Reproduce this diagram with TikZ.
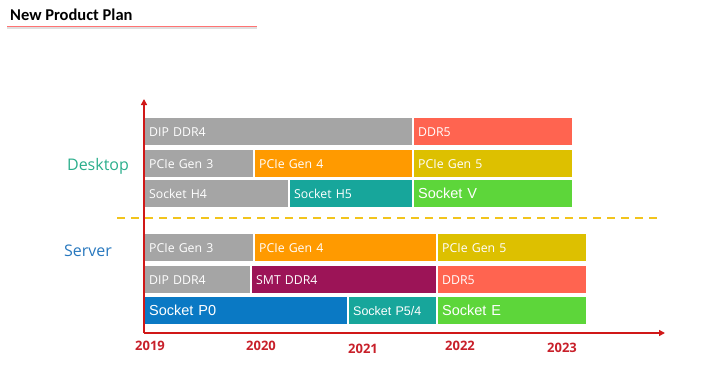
\documentclass[tikz,border=0pt]{standalone}
\usepackage{fontspec}
\setmainfont{Open Sans}
\newfontfamily\arialf{Liberation Sans}
\newfontfamily\calf{Carlito}
\usetikzlibrary{arrows.meta}
\definecolor{cGray}{HTML}{A5A5A5}
\definecolor{cRed}{HTML}{FF6450}
\definecolor{cOrange}{HTML}{FF9A00}
\definecolor{cMustard}{HTML}{DDC000}
\definecolor{cGreen}{HTML}{5DD63A}
\definecolor{cTeal}{HTML}{17A69B}
\definecolor{cMaroon}{HTML}{9C1457}
\definecolor{cBlue}{HTML}{0A79C4}
\definecolor{cAxis}{HTML}{D01818}
\definecolor{cDash}{HTML}{F2C41C}
\definecolor{cDesk}{HTML}{2BAE8C}
\definecolor{cServ}{HTML}{2878BE}
\definecolor{cYear}{HTML}{C8202A}
\begin{document}
\begin{tikzpicture}[x=1pt,y=-1pt,
  bar/.style={anchor=north west, inner xsep=4pt, inner ysep=0pt, minimum height=27pt,
    text=white, align=left, font=\fontsize{12.3}{14}\selectfont},
  sbar/.style={bar, font=\arialf\fontsize{14.5}{16}\selectfont},
  axis/.style={draw=cAxis, line width=1.8pt, -{Triangle[length=6pt,width=6pt]}},
  year/.style={text=cYear, font=\bfseries\fontsize{13}{15}\selectfont},
  grp/.style={font=\fontsize{16}{18}\selectfont}]
\useasboundingbox (0,0) rectangle (716,391);
% title
\node[anchor=west, inner sep=0pt, font=\calf\bfseries\fontsize{16.5}{18}\selectfont] (title) at (10,15) {New Product Plan};
\coordinate (ul1) at (7,26.5); \coordinate (ul2) at (257,26.5);
\draw[gray!25, line width=1.5pt] ([yshift=-1.5pt]ul1) -- ([yshift=-1.5pt]ul2);
\draw[red!55, line width=1pt] (ul1) -- (ul2);
% desktop
\node[bar, fill=cGray, text width=259pt] (dd1) at (145,118) {DIP DDR4};
\node[bar, fill=cRed, text width=150pt] (dd2) at (414,118) {DDR5};
\node[bar, fill=cGray, text width=100pt] (dp1) at (145,150) {PCIe Gen 3};
\node[bar, fill=cOrange, text width=149pt] (dp2) at (255,150) {PCIe Gen 4};
\node[bar, fill=cMustard, text width=150pt] (dp3) at (414,150) {PCIe Gen 5};
\node[bar, fill=cGray, text width=135pt] (ds1) at (145,180) {Socket H4};
\node[bar, fill=cTeal, text width=114pt] (ds2) at (290,180) {Socket H5};
\node[sbar, fill=cGreen, text width=150pt] (ds3) at (414,180) {Socket V};
% server
\node[bar, fill=cGray, text width=100pt] (sp1) at (145,234) {PCIe Gen 3};
\node[bar, fill=cOrange, text width=173pt] (sp2) at (255,234) {PCIe Gen 4};
\node[bar, fill=cMustard, text width=140pt] (sp3) at (438,234) {PCIe Gen 5};
\node[bar, fill=cGray, text width=97pt] (sd1) at (145,266) {DIP DDR4};
\node[bar, fill=cMaroon, text width=176pt] (sd2) at (252,266) {SMT DDR4};
\node[bar, fill=cRed, text width=140pt] (sd3) at (438,266) {DDR5};
\node[sbar, fill=cBlue, text width=194pt] (ss1) at (145,297) {Socket P0};
\node[bar, fill=cTeal, text width=79pt, font=\arialf\fontsize{12.5}{14}\selectfont] (ss2) at (349,297) {Socket P5/4};
\node[sbar, fill=cGreen, text width=140pt] (ss3) at (438,297) {Socket E};
% separator
\coordinate (dl) at (117,218); \coordinate (dr) at (658,218);
\draw[cDash, line width=2pt, dash pattern=on 8pt off 6pt] (dl) -- (dr);
% axes
\coordinate (o) at (144,333); \coordinate (yt) at (144,99); \coordinate (xr) at (665,333);
\draw[axis] (o) -- (yt);
\draw[axis] (o) -- (xr);
% labels
\node[grp, text=cDesk] (desk) at (98,166) {Desktop};
\node[grp, text=cServ] (serv) at (88,251) {Server};
\node[year] (y19) at (150,346) {2019};
\node[year] (y20) at (261,346) {2020};
\node[year] (y21) at (363,349) {2021};
\node[year] (y22) at (460,346) {2022};
\node[year] (y23) at (562,348) {2023};
\end{tikzpicture}
\end{document}
